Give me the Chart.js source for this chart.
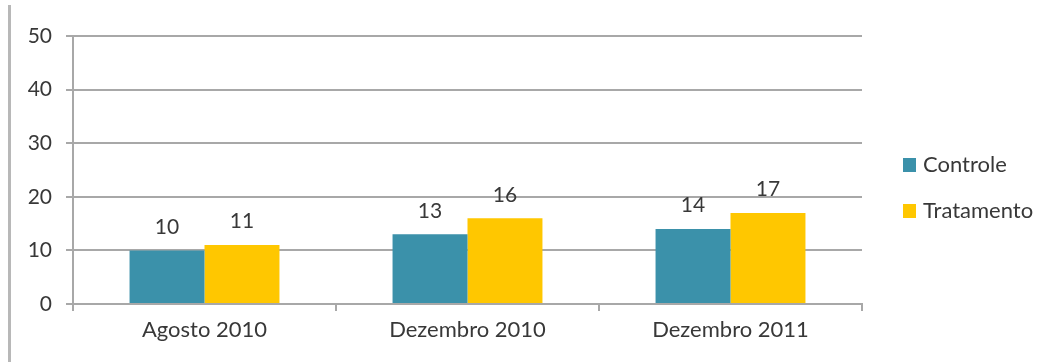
<!DOCTYPE html>
<html>
<head>
<meta charset="utf-8">
<script src="https://cdn.jsdelivr.net/npm/chart.js@4/dist/chart.umd.min.js"></script>
<style>
  html, body { margin: 0; padding: 0; background: #fff; }
  #wrap { position: relative; width: 1060px; height: 362px; }
</style>
</head>
<body>
<div id="wrap"><canvas id="grafico" width="1060" height="362"></canvas></div>
<script>
const periodos = ['Agosto 2010', 'Dezembro 2010', 'Dezembro 2011'];
const controle = [10, 13, 14];
const tratamento = [11, 16, 17];
const yTicks = [0, 10, 20, 30, 40, 50];

const fonte = 'Lato, "Open Sans", sans-serif';
const corTexto = '#383838';
const corGrade = '#a8a8a8';

// numeros em cima das barras
const rotulos = {
  id: 'rotulos',
  afterDatasetsDraw(chart) {
    const ctx = chart.ctx;
    ctx.save();
    ctx.font = '21px ' + fonte;
    ctx.fillStyle = corTexto;
    ctx.textAlign = 'center';
    ctx.textBaseline = 'bottom';
    chart.data.datasets.forEach((ds, i) => {
      chart.getDatasetMeta(i).data.forEach((bar, j) => {
        ctx.fillText(ds.data[j], bar.x, bar.y - 13);
      });
    });
    ctx.restore();
  }
};

// legenda a direita e linha cinza da esquerda
const extras = {
  id: 'extras',
  afterDraw(chart) {
    const ctx = chart.ctx;
    ctx.save();
    ctx.fillStyle = '#b8b8b8';
    ctx.fillRect(8, 5, 3, 357);
    ctx.font = '22px ' + fonte;
    ctx.textBaseline = 'middle';
    ctx.textAlign = 'left';
    chart.data.datasets.forEach((ds, i) => {
      const y = 165 + i * 46;
      ctx.fillStyle = ds.backgroundColor;
      ctx.fillRect(903, y - 7, 13, 14);
      ctx.fillStyle = corTexto;
      ctx.fillText(ds.label, 923, y);
    });
    ctx.restore();
  }
};

new Chart(document.getElementById('grafico'), {
  type: 'bar',
  data: {
    labels: periodos,
    datasets: [
      { label: 'Controle', data: controle, backgroundColor: '#3b91aa' },
      { label: 'Tratamento', data: tratamento, backgroundColor: '#ffc700' }
    ]
  },
  options: {
    responsive: false,
    animation: false,
    layout: { padding: { left: 0, top: 36, right: 198, bottom: 0 } },
    datasets: { bar: { categoryPercentage: 0.57, barPercentage: 1 } },
    plugins: { legend: { display: false }, tooltip: { enabled: false } },
    scales: {
      x: {
        afterFit(s) { s.height = 58; },
        grid: { offset: true, drawOnChartArea: false, tickLength: 7, color: corGrade, lineWidth: 2 },
        border: { display: true, color: corGrade, width: 2 },
        ticks: { color: corTexto, font: { family: fonte, size: 22 }, padding: 6 }
      },
      y: {
        min: 0,
        max: 50,
        afterFit(s) { s.width = 73; },
        afterBuildTicks(s) { s.ticks = yTicks.map(v => ({ value: v })); },
        grid: { color: corGrade, lineWidth: 2, tickLength: 7 },
        border: { display: true, color: corGrade, width: 2 },
        ticks: { color: corTexto, font: { family: fonte, size: 21 }, padding: 14 }
      }
    }
  },
  plugins: [rotulos, extras]
});
</script>
</body>
</html>
